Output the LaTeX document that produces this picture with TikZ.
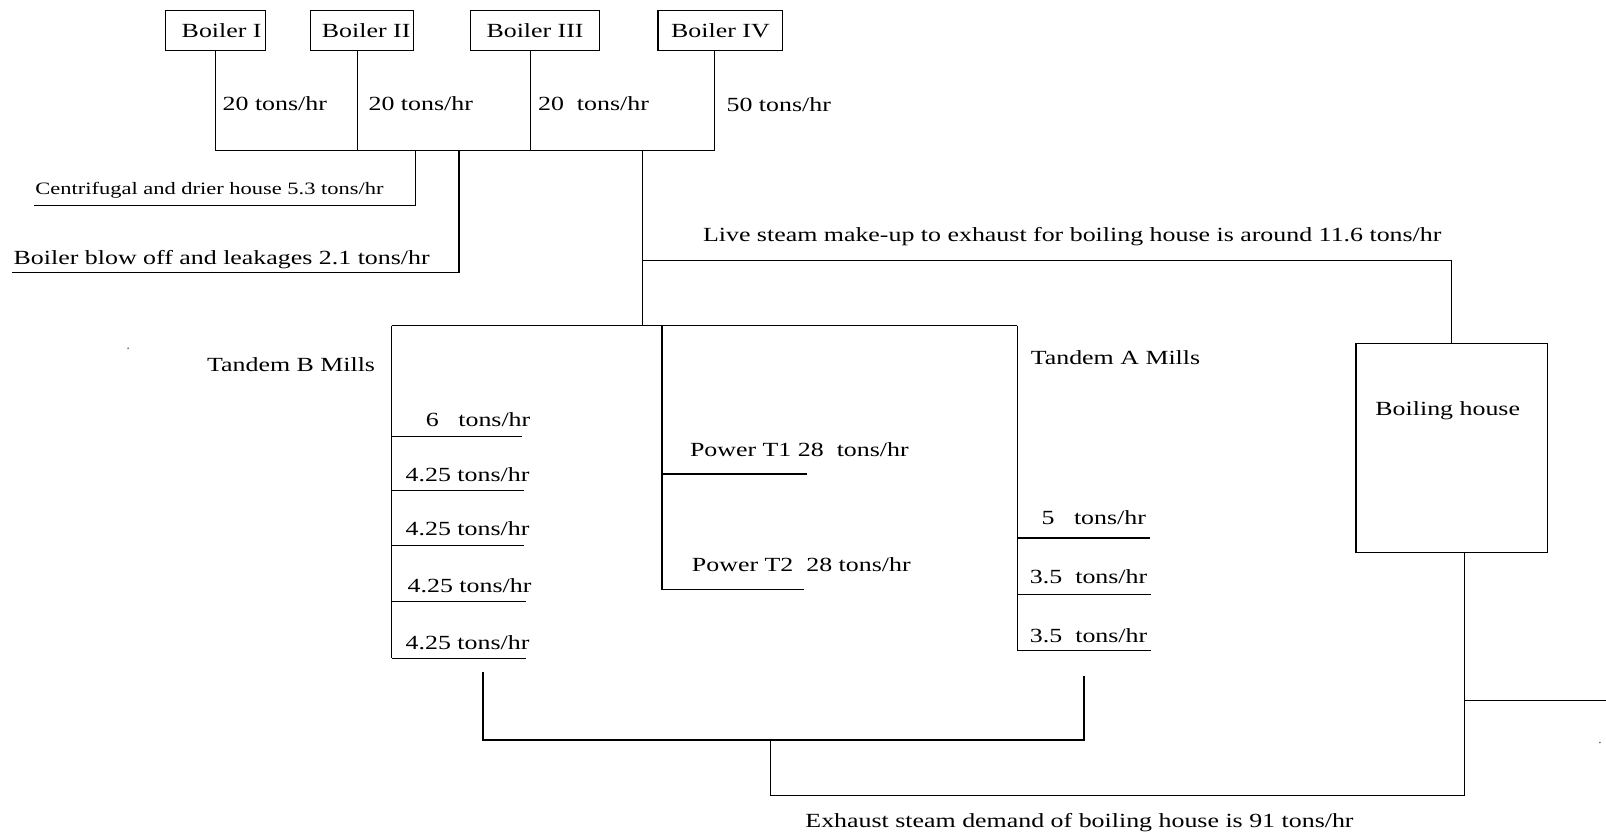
\documentclass[tikz,border=0pt]{standalone}
\usepackage{fontspec}
\setmainfont{Liberation Serif}[FakeStretch=1.29]
\usetikzlibrary{calc}

\begin{document}
\begin{tikzpicture}[
    x=0.5pt, y=-0.5pt,
    boiler/.style={
        rectangle, draw, line width=0.6pt,
        minimum height=19.5pt, inner sep=0pt,
        font=\fontsize{9.8}{11}\selectfont
    },
    house/.style={
        rectangle, draw, line width=0.6pt,
        minimum width=93.6pt, minimum height=102.2pt, inner sep=0pt
    },
    pipe/.style={line width=0.6pt},
    flow/.style={font=\fontsize{9.8}{11}\selectfont, anchor=base west, inner sep=0pt},
    note/.style={font=\fontsize{8.5}{10}\selectfont, anchor=base west, inner sep=0pt},
    speck/.style={circle, fill=black!55, inner sep=0pt, minimum size=1pt}
]
\useasboundingbox (0,0) rectangle (1568,815);

% === BOILERS ===

\node[boiler, minimum width=49pt] (b1) at (210.4,29.5) {\hspace*{6pt}Boiler I};
\node[boiler, minimum width=50.3pt] (b2) at (353.5,29.5) {\hspace*{4pt}Boiler II};
\node[boiler, minimum width=63pt] (b3) at (522.4,29.5) {Boiler III};
\node[boiler, minimum width=60.9pt] (b4) at (703.4,29.5) {Boiler IV};

\coordinate (j1) at (210.6,147);
\coordinate (j2) at (348.7,147);
\coordinate (j3) at (518,147);
\coordinate (j4) at (697.5,147);

\draw[pipe] (b1.south -| j1) -- (j1);
\draw[pipe] (b2.south -| j2) -- (j2);
\draw[pipe] (b3.south -| j3) -- (j3);
\draw[pipe] (b4.south -| j4) -- (j4);
\draw[pipe] (j1) -- (j4);

\node[flow] (f1) at (217,107.4) {20 tons/hr};
\node[flow] (f2) at (359.5,107.4) {20 tons/hr};
\node[flow] (f3) at (525,108) {20\ \ tons/hr};
\node[flow] (f4) at (709,109) {50 tons/hr};

% === LOSSES ===

\coordinate (jc) at (405.9,147);
\coordinate (cend) at (33.3,200.8);
\draw[pipe] (jc) |- (cend);
\node[note] (cdh) at (34.2,189.7) {Centrifugal and drier house 5.3 tons/hr};

\coordinate (jb) at (448.2,147);
\coordinate (bend) at (11.6,266.3);
\draw[pipe] (jb) |- (bend);
\node[flow] (blow) at (13,258.7) {Boiler blow off and leakages 2.1 tons/hr};

% === LIVE STEAM ===

\coordinate (jt) at (627.6,147);
\coordinate (jl) at (627.6,254);
\coordinate (tt) at (627.6,318);
\draw[pipe] (jt) -- (tt);

\node[house] (bh) at (1417.4,437.4) {};
\node[flow] (bhl) at (1342.5,405.2) {Boiling house};

\draw[pipe] (jl) -| (bh.north);
\node[flow] (live) at (686,236) {Live steam make-up to exhaust for boiling house is around 11.6 tons/hr};

% === TANDEM B MILLS ===

\coordinate (tbl) at (382.6,318);
\coordinate (tar) at (993.4,318);
\draw[pipe] (tbl) -- (tar);

\node[flow] (tbm) at (201.8,362.9) {Tandem B Mills};

\coordinate (mb1) at (509.7,426.4);
\coordinate (mb2) at (511.5,479);
\coordinate (mb3) at (511.5,532.4);
\coordinate (mb4) at (513.8,587.5);
\coordinate (mb5) at (513.8,642.8);

\draw[pipe] (tbl) -- (tbl |- mb5);
\draw[pipe] (tbl |- mb1) -- (mb1);
\draw[pipe] (tbl |- mb2) -- (mb2);
\draw[pipe] (tbl |- mb3) -- (mb3);
\draw[pipe] (tbl |- mb4) -- (mb4);
\draw[pipe] (tbl |- mb5) -- (mb5);

\node[flow] (tb1) at (415.5,416.6) {6\ \ \ tons/hr};
\node[flow] (tb2) at (395.7,469.7) {4.25 tons/hr};
\node[flow] (tb3) at (395.7,523.3) {4.25 tons/hr};
\node[flow] (tb4) at (397.6,578.3) {4.25 tons/hr};
\node[flow] (tb5) at (395.7,633.7) {4.25 tons/hr};

% === POWER TURBINES ===

\coordinate (pt) at (646.4,318);
\coordinate (pw1) at (788,462.8);
\coordinate (pw2) at (785,575.4);
\draw[pipe] (pt) -- (pt |- pw2) -- (pw2);
\draw[pipe] (pt |- pw1) -- (pw1);

\node[flow] (pl1) at (673.3,445.9) {Power T1 28\ \ tons/hr};
\node[flow] (pl2) at (675.2,557.5) {Power T2\ \ 28 tons/hr};

% === TANDEM A MILLS ===

\node[flow] (tam) at (1006,355.4) {Tandem A Mills};

\coordinate (ma1) at (1122.4,525.3);
\coordinate (ma2) at (1124,580.3);
\coordinate (ma3) at (1124,635.3);

\draw[pipe] (tar) -- (tar |- ma3);
\draw[pipe] (tar |- ma1) -- (ma1);
\draw[pipe] (tar |- ma2) -- (ma2);
\draw[pipe] (tar |- ma3) -- (ma3);

\node[flow] (ta1) at (1016.6,511.6) {5\ \ \ tons/hr};
\node[flow] (ta2) at (1005.2,569.5) {3.5\ \ tons/hr};
\node[flow] (ta3) at (1005.2,627.2) {3.5\ \ tons/hr};

% === EXHAUST ===

\coordinate (bl) at (471.6,656);
\coordinate (br) at (1058.3,660);
\coordinate (ebl) at (471.6,722.5);
\coordinate (ebr) at (1058.3,722.5);
\draw[pipe] (bl) -- (ebl) -- (ebr) -- (br);

\coordinate (em) at (752.6,722.5);
\coordinate (ed) at (752.6,777);
\coordinate (ebh) at (1429.6,777);
\draw[pipe] (em) -- (ed) -- (ebh) -- (bh.south -| ebh);

\coordinate (jr) at (1429.6,684);
\coordinate (rend) at (1568,684);
\draw[pipe] (jr) -- (rend);

\node[flow] (exh) at (786,807.5) {Exhaust steam demand of boiling house is 91 tons/hr};

\node[speck] (s1) at (125,340) {};
\node[speck] (s2) at (1562,725) {};

\end{tikzpicture}
\end{document}
